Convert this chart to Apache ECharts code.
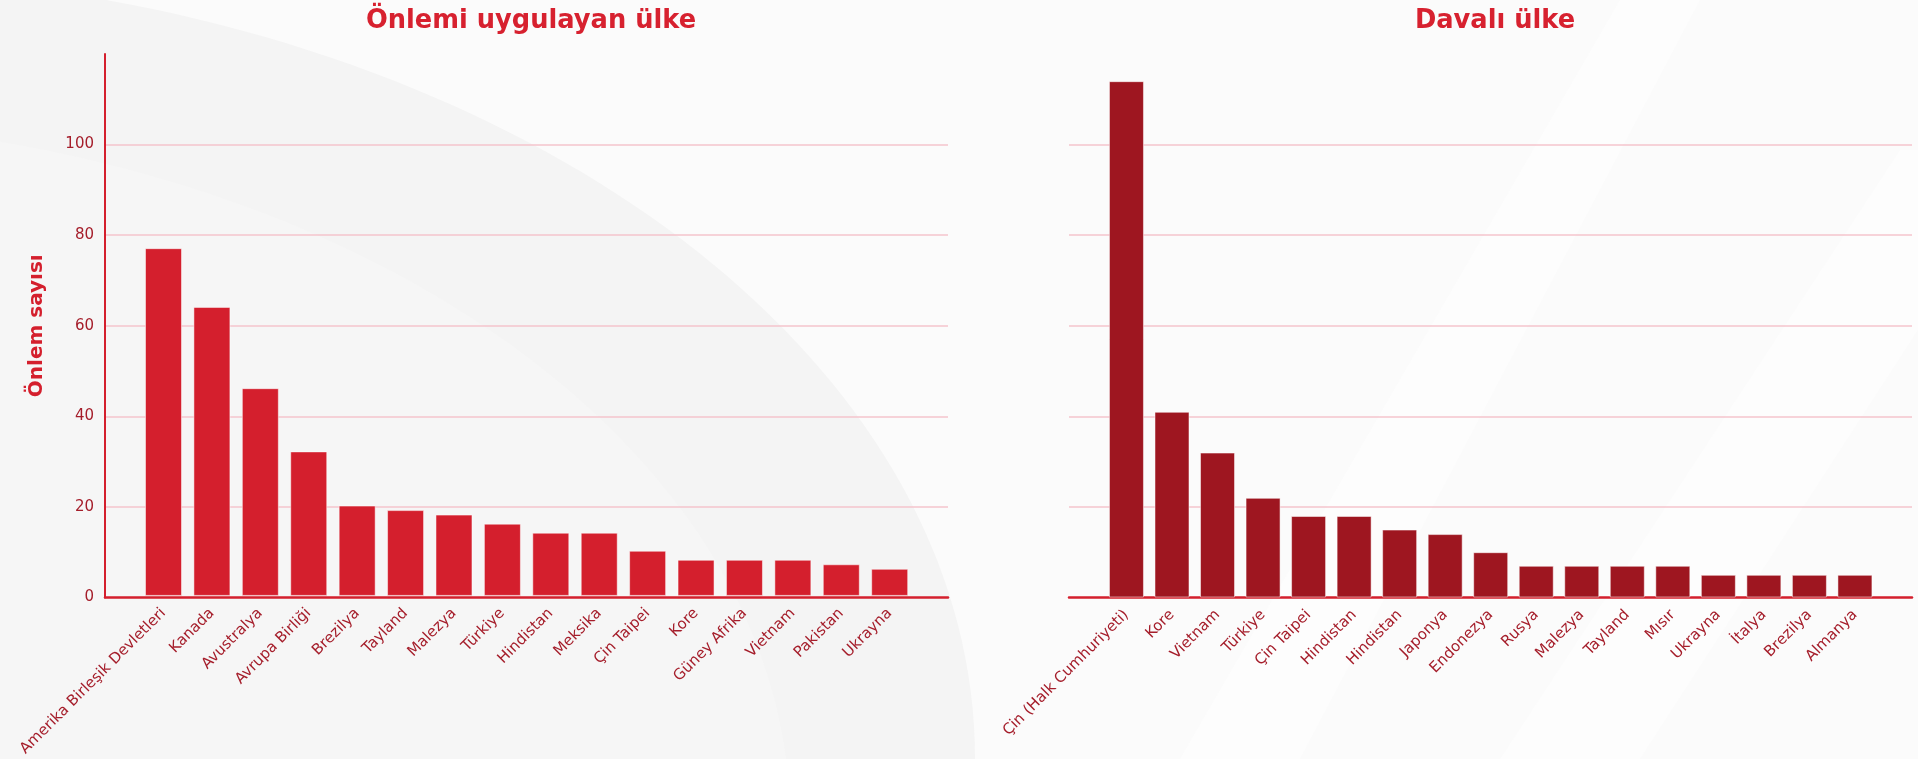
<!DOCTYPE html>
<html>
<head>
<meta charset="utf-8">
<script src="https://cdn.jsdelivr.net/npm/echarts@6/dist/echarts.min.js"></script>
<style>
html, body { margin: 0; padding: 0; background: #fbfbfb; }
#main { width: 1918px; height: 759px; }
</style>
</head>
<body>
<div id="main"></div>
<script>
// önlemi uygulayan ülkeler
var applyCountries = ['Amerika Birleşik Devletleri', 'Kanada', 'Avustralya', 'Avrupa Birliği', 'Brezilya', 'Tayland', 'Malezya', 'Türkiye', 'Hindistan', 'Meksika', 'Çin Taipei', 'Kore', 'Güney Afrika', 'Vietnam', 'Pakistan', 'Ukrayna'];
var applyCounts = [77, 64, 46, 32, 20, 19, 18, 16, 14, 14, 10, 8, 8, 8, 7, 6];
// davalı ülkeler
var defendantCountries = ['Çin (Halk Cumhuriyeti)', 'Kore', 'Vietnam', 'Türkiye', 'Çin Taipei', 'Hindistan', 'Hindistan', 'Japonya', 'Endonezya', 'Rusya', 'Malezya', 'Tayland', 'Mısır', 'Ukrayna', 'İtalya', 'Brezilya', 'Almanya'];
var defendantCounts = [114, 41, 32, 22, 18, 18, 15, 14, 10, 7, 7, 7, 7, 5, 5, 5, 5];
var yTicks = [0, 20, 40, 60, 80, 100];

var red = '#d41f2d';
var darkRed = '#9e1620';
var labelColor = '#a51e2b';
var gridColor = '#f5c5cc';
var font = 'DejaVu Sans';

var myChart = echarts.init(document.getElementById('main'));

function outerY(showLine, showLabel, name) {
    return {
        type: 'value', min: 0, max: 120, interval: 20,
        name: name || '', nameLocation: 'middle', nameGap: 58,
        nameTextStyle: { color: red, fontSize: 20, fontWeight: 'bold', fontFamily: font },
        axisLine: { show: showLine, lineStyle: { color: red, width: 2 } },
        axisTick: { show: false },
        axisLabel: {
            show: showLabel, color: labelColor, fontSize: 15, fontFamily: font, margin: 11,
            showMaxLabel: false,
            formatter: function (v) { return yTicks.indexOf(v) >= 0 ? String(v) : ''; }
        },
        splitLine: { show: true, showMaxLine: false, showMinLine: false, lineStyle: { color: gridColor, width: 1.5 } }
    };
}
function innerY() {
    return { type: 'value', min: 0, max: 120, interval: 20, show: false, splitLine: { show: false } };
}
function outerX() {
    return {
        type: 'category', data: [''],
        axisLine: { show: true, lineStyle: { color: red, width: 2.5 } },
        axisTick: { show: false }, axisLabel: { show: false }, splitLine: { show: false }
    };
}
function innerX(cats) {
    return {
        type: 'category', data: cats,
        axisLine: { show: false }, axisTick: { show: false },
        axisLabel: { rotate: 45, interval: 0, color: labelColor, fontSize: 15, fontFamily: font, margin: 15 }
    };
}

var option = {
    backgroundColor: '#fbfbfb',
    animation: false,
    graphic: [
        {
            type: 'ellipse', z: -10, silent: true,
            shape: { cx: -200, cy: 759, rx: 1175, ry: 786 },
            style: { fill: '#f4f4f4' }
        },
        {
            type: 'ellipse', z: -9, silent: true,
            shape: { cx: -260, cy: 820, rx: 1050, ry: 700 },
            style: { fill: '#f6f6f6' }
        },
        {
            type: 'polygon', z: -10, silent: true,
            shape: { points: [[1180, 759], [1620, 0], [1700, 0], [1300, 759]] },
            style: { fill: '#ffffff', opacity: 0.45 }
        },
        {
            type: 'polygon', z: -10, silent: true,
            shape: { points: [[1500, 759], [1900, 150], [1918, 150], [1918, 330], [1640, 759]] },
            style: { fill: '#ffffff', opacity: 0.45 }
        }
    ],
    title: [
        {
            text: 'Önlemi uygulayan ülke', left: 526, top: 3, textAlign: 'center',
            textStyle: { color: '#d7212f', fontSize: 25.7, fontWeight: 'bold', fontFamily: font }
        },
        {
            text: 'Davalı ülke', left: 1490, top: 3, textAlign: 'center',
            textStyle: { color: '#d7212f', fontSize: 25.7, fontWeight: 'bold', fontFamily: font }
        }
    ],
    grid: [
        { left: 105, top: 54, width: 843, height: 543.5 },
        { left: 139.3, top: 54, width: 774.6, height: 543.5 },
        { left: 1069, top: 54, width: 843, height: 543.5 },
        { left: 1103.7, top: 54, width: 774, height: 543.5 }
    ],
    xAxis: [
        Object.assign(outerX(), { gridIndex: 0 }),
        Object.assign(innerX(applyCountries), { gridIndex: 1 }),
        Object.assign(outerX(), { gridIndex: 2 }),
        Object.assign(innerX(defendantCountries), { gridIndex: 3 })
    ],
    yAxis: [
        Object.assign(outerY(true, true, 'Önlem sayısı'), { gridIndex: 0 }),
        Object.assign(innerY(), { gridIndex: 1 }),
        Object.assign(outerY(false, false), { gridIndex: 2 }),
        Object.assign(innerY(), { gridIndex: 3 })
    ],
    series: [
        {
            name: 'Önlemi uygulayan ülke', type: 'bar',
            xAxisIndex: 1, yAxisIndex: 1,
            barWidth: 37,
            itemStyle: { color: red, borderColor: 'rgba(255,255,255,0.5)', borderWidth: 1 },
            data: applyCounts
        },
        {
            name: 'Davalı ülke', type: 'bar',
            xAxisIndex: 3, yAxisIndex: 3,
            barWidth: 35,
            itemStyle: { color: darkRed, borderColor: 'rgba(255,255,255,0.5)', borderWidth: 1 },
            data: defendantCounts
        }
    ]
};
myChart.setOption(option);
</script>
</body>
</html>
